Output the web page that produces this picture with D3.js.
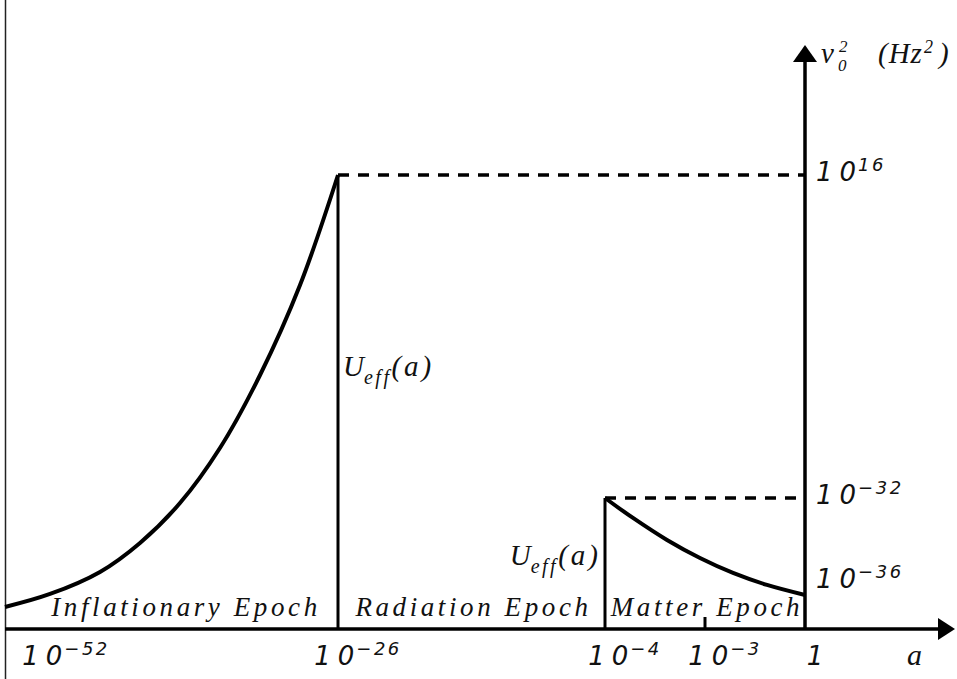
<!DOCTYPE html>
<html>
<head>
<meta charset="utf-8">
<script src="https://cdn.jsdelivr.net/npm/d3@7"></script>
<style>
  html, body { margin: 0; padding: 0; background: #fff; }
  svg { display: block; }
  .num { font-family: "DejaVu Sans", sans-serif; font-style: oblique; fill: #111; }
  .tex { font-family: "Liberation Serif", "DejaVu Serif", serif; font-style: italic; fill: #111; }
</style>
</head>
<body>
<svg id="chart" width="957" height="679"></svg>
<script>
// all values are log10 of the quantity (schematic, not to scale)
const xTicks = [-52, -26, -4, -3, 0];
const yTicks = [16, -32, -36];

// inflation: U_eff climbs up to 1e16 at a = 1e-26
const inflationA = [-55.65, -51.64, -47.19, -43.63, -40.07, -36.51, -32.94, -29.38, -26];
const inflationU = [-37.19, -36.57, -35.52, -34.14, -32.24, -24.57, -13.72, -0.35, 16];

// matter era: U_eff falls from 1e-32 at a = 1e-4 towards a = 1
const matterA = [-4, -3.72, -3.38, -3.05, -2.16, -1.14, 0];
const matterU = [-32, -32.95, -34, -34.86, -35.57, -36.14, -36.62];

const epochNames = ["Inflationary Epoch", "Radiation Epoch", "Matter Epoch"];
const epochBounds = [[-52, -26], [-26, -4], [-4, 0]];

const svg = d3.select("#chart");
const W = 957, H = 679;
const y0 = 629;       // x axis baseline
const ink = "#000";

// piecewise log scales, the sketch squeezes the long stretches
const x = d3.scaleLinear().domain(xTicks).range([46, 338, 605, 705, 805]);
const y = d3.scaleLinear().domain([-36, -32, 16]).range([582, 498, 175]);

// frame line on the left
svg.append("line")
    .attr("x1", 5.5).attr("x2", 5.5).attr("y1", 0).attr("y2", H)
    .attr("stroke", "#222").attr("stroke-width", 1.5);

// axes with arrow heads
svg.append("line")
    .attr("x1", 5).attr("x2", 940).attr("y1", y0).attr("y2", y0)
    .attr("stroke", ink).attr("stroke-width", 3.5);
svg.append("path")
    .attr("d", `M938,${y0 - 11}L955,${y0}L938,${y0 + 11}Z`)
    .attr("fill", ink);

svg.append("line")
    .attr("x1", x(0)).attr("x2", x(0)).attr("y1", y0).attr("y2", 60)
    .attr("stroke", ink).attr("stroke-width", 3.5);
svg.append("path")
    .attr("d", `M${x(0) - 12},62L${x(0)},45L${x(0) + 12},62Z`)
    .attr("fill", ink);

// small tick for 1e-3
svg.append("line")
    .attr("x1", x(-3)).attr("x2", x(-3)).attr("y1", y0).attr("y2", y0 - 12)
    .attr("stroke", ink).attr("stroke-width", 3);

// dashed levels
const dashes = [[-26, 16], [-4, -32]];
svg.append("g")
    .selectAll("line")
    .data(dashes)
    .join("line")
    .attr("x1", d => x(d[0])).attr("x2", x(0))
    .attr("y1", d => y(d[1])).attr("y2", d => y(d[1]))
    .attr("stroke", ink).attr("stroke-width", 3.5)
    .attr("stroke-dasharray", "11,9");

// vertical jumps of the potential
svg.append("g")
    .selectAll("line")
    .data(dashes)
    .join("line")
    .attr("x1", d => x(d[0])).attr("x2", d => x(d[0]))
    .attr("y1", d => y(d[1])).attr("y2", y0)
    .attr("stroke", ink).attr("stroke-width", 3);

// the two curves
const line = d3.line()
    .x(d => x(d[0]))
    .y(d => y(d[1]))
    .curve(d3.curveCatmullRom.alpha(0.5));

const curves = [d3.zip(inflationA, inflationU), d3.zip(matterA, matterU)];
svg.append("g")
    .selectAll("path")
    .data(curves)
    .join("path")
    .attr("d", line)
    .attr("fill", "none")
    .attr("stroke", ink)
    .attr("stroke-width", 4)
    .attr("stroke-linejoin", "round");

// 10^n labels
function pow10(text, e) {
    if (e === 0) { text.text("1"); return; }
    text.append("tspan").attr("letter-spacing", 7).text("1");
    text.append("tspan").text("0");
    text.append("tspan")
        .attr("font-size", 18)
        .attr("dx", 2)
        .attr("dy", -10)
        .attr("letter-spacing", 2.5)
        .text(e < 0 ? "\u2212" + (-e) : String(e));
}

svg.append("g")
    .selectAll("text")
    .data(xTicks)
    .join("text")
    .attr("class", "num")
    .attr("font-size", 26)
    .attr("x", d => x(d) + (d === 0 ? 10 : 20))
    .attr("y", 665)
    .attr("text-anchor", "middle")
    .each(function(d) { pow10(d3.select(this), d); });

svg.append("g")
    .selectAll("text")
    .data(yTicks)
    .join("text")
    .attr("class", "num")
    .attr("font-size", 26)
    .attr("x", x(0) + 11)
    .attr("y", d => y(d) + 6)
    .each(function(d) { pow10(d3.select(this), d); });

// axis names
svg.append("text")
    .attr("class", "tex")
    .attr("font-size", 30)
    .attr("x", 907).attr("y", 665)
    .text("a");

// nu_0^2 with sub and sup stacked, then the unit
const yName = svg.append("text")
    .attr("class", "tex")
    .attr("font-size", 29)
    .attr("x", 821).attr("y", 63);
yName.append("tspan").text("\u03bd");
yName.append("tspan").attr("x", 838).attr("dy", 8).attr("font-size", 17).text("0");
yName.append("tspan").attr("x", 839).attr("dy", -19).attr("font-size", 17).text("2");
yName.append("tspan").attr("x", 878).attr("dy", 11).attr("letter-spacing", 1).text("(Hz");
yName.append("tspan").attr("dx", 1).attr("dy", -10).attr("font-size", 18).text("2");
yName.append("tspan").attr("dx", 6).attr("dy", 10).text(")");

// U_eff(a) labels next to the jumps
function ueff(text) {
    text.append("tspan").text("U");
    text.append("tspan").attr("font-size", 20).attr("dy", 8).attr("letter-spacing", 2.5).text("eff");
    text.append("tspan").attr("dy", -8).attr("letter-spacing", 3).text("(a)");
}
ueff(svg.append("text").attr("class", "tex").attr("font-size", 29)
    .attr("x", x(-26) + 5).attr("y", y(-13.9)));
ueff(svg.append("text").attr("class", "tex").attr("font-size", 29)
    .attr("text-anchor", "end")
    .attr("x", x(-4) - 4).attr("y", y(-35.2)));

// epoch names along the axis
svg.append("g")
    .selectAll("text")
    .data(epochNames)
    .join("text")
    .attr("class", "tex")
    .attr("font-size", 27)
    .attr("letter-spacing", 3.6)
    .attr("text-anchor", "middle")
    .attr("x", (d, i) => (x(epochBounds[i][0]) + x(epochBounds[i][1])) / 2 + (i === 0 ? -6 : 2))
    .attr("y", 616)
    .text(d => d);
</script>
</body>
</html>
